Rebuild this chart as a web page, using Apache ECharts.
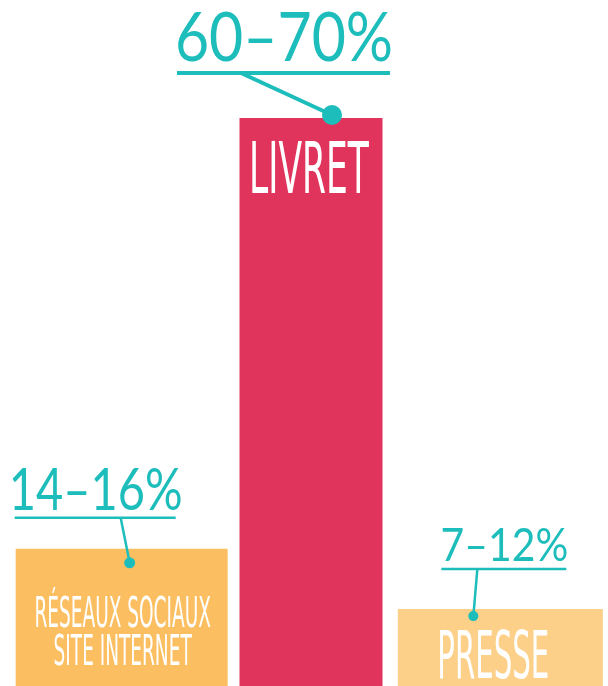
<!DOCTYPE html>
<html>
<head>
<meta charset="utf-8">
<script src="https://cdn.jsdelivr.net/npm/echarts@6/dist/echarts.min.js"></script>
<style>
  html, body { margin: 0; padding: 0; background: #fff; }
  #chart { width: 608px; height: 686px; }
</style>
</head>
<body>
<div id="chart"></div>
<script>
// data
const categories = ['RÉSEAUX SOCIAUX\nSITE INTERNET', 'LIVRET', 'PRESSE'];
const shareValues = [15.7, 65, 8.8];
const rangeLabels = ['14–16%', '60–70%', '7–12%'];

// styles
const teal = '#1dbdbb';
const barColors = ['#fbbf61', '#e0345c', '#fdd089'];
const barWidths = [212, 143, 205];
// label inside bar: offset from bar top centre, size and horizontal squeeze
const catLabelStyle = [
  { dx: 1, dy: 86, size: 42, scaleX: 0.49, lineHeight: 38 },
  { dx: -2, dy: 57, size: 71, scaleX: 0.54, lineHeight: 71 },
  { dx: -7, dy: 52, size: 65, scaleX: 0.5, lineHeight: 65 }
];
// callout: dot, underline, leader start, percentage text (all relative to bar top centre)
const calloutStyle = [
  { dotX: 8, dotY: 14, r: 5.5, lineY: -31, x0: -107, x1: 54, lw: 2.5, startX: -1, textX: -26, textY: -58, size: 58, scaleX: 0.81 },
  { dotX: 21, dotY: -3, r: 10, lineY: -45, x0: -134, x1: 79, lw: 4, startX: -70, textX: -27, textY: -79, size: 67, scaleX: 0.88 },
  { dotX: -27, dotY: 7, r: 5, lineY: -40, x0: -59, x1: 66, lw: 2.5, startX: -23, textX: 4, textY: -63, size: 47, scaleX: 0.87 }
];

const chart = echarts.init(document.getElementById('chart'));

function renderBar(params, api) {
  const idx = api.value(0);
  const top = api.coord([idx, api.value(1)]);
  const base = api.coord([idx, 0]);
  const cx = top[0];
  const ty = top[1];
  const w = barWidths[idx];
  const lab = catLabelStyle[idx];
  const co = calloutStyle[idx];
  return {
    type: 'group',
    children: [
      {
        type: 'rect',
        shape: { x: cx - w / 2, y: ty, width: w, height: base[1] - ty },
        style: { fill: barColors[idx] }
      },
      {
        type: 'text',
        x: cx + lab.dx,
        y: ty + lab.dy,
        scaleX: lab.scaleX,
        style: {
          text: categories[idx],
          fill: '#fff',
          fontFamily: '"Liberation Sans Narrow", "DejaVu Sans Condensed", sans-serif',
          fontSize: lab.size,
          lineHeight: lab.lineHeight,
          textAlign: 'center',
          textVerticalAlign: 'middle'
        }
      },
      {
        type: 'line',
        shape: { x1: cx + co.x0, y1: ty + co.lineY, x2: cx + co.x1, y2: ty + co.lineY },
        style: { stroke: teal, lineWidth: co.lw }
      },
      {
        type: 'line',
        shape: { x1: cx + co.startX, y1: ty + co.lineY, x2: cx + co.dotX, y2: ty + co.dotY },
        style: { stroke: teal, lineWidth: co.lw }
      },
      {
        type: 'circle',
        shape: { cx: cx + co.dotX, cy: ty + co.dotY, r: co.r },
        style: { fill: teal }
      },
      {
        type: 'text',
        x: cx + co.textX,
        y: ty + co.textY,
        scaleX: co.scaleX,
        style: {
          text: rangeLabels[idx],
          fill: teal,
          fontFamily: 'Lato, sans-serif',
          fontSize: co.size,
          textAlign: 'center',
          textVerticalAlign: 'middle'
        }
      }
    ]
  };
}

const option = {
  animation: false,
  grid: { left: 27, right: 13, top: 0, bottom: 0 },
  xAxis: { type: 'category', data: categories, show: false },
  yAxis: { type: 'value', min: 0, max: 78.5, show: false },
  series: [{
    type: 'custom',
    renderItem: renderBar,
    clip: false,
    data: shareValues.map((v, i) => [i, v])
  }]
};

chart.setOption(option);
</script>
</body>
</html>
